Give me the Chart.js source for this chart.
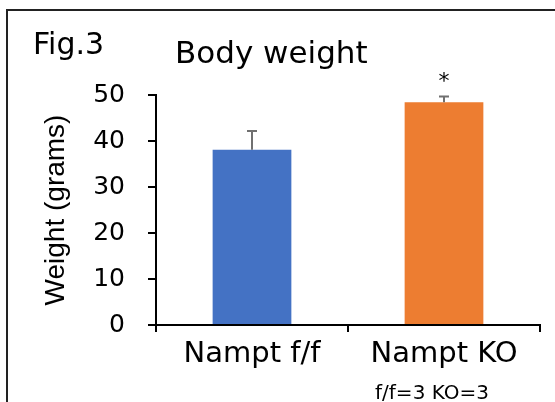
<!DOCTYPE html>
<html>
<head>
<meta charset="utf-8">
<script src="https://cdn.jsdelivr.net/npm/chart.js@4/dist/chart.umd.min.js"></script>
<style>
    html, body { margin: 0; padding: 0; background: #fff; }
    #wrap { width: 555px; height: 402px; }
</style>
</head>
<body>
<div id="wrap"><canvas id="weight_chart"></canvas></div>
<script>
var groups = ['Nampt f/f', 'Nampt KO'];
var meanWeight = [38.1, 48.4];
var sdWeight = [4.1, 1.3];
var significance = ['', '*'];
var barColors = ['#4472C4', '#ED7D31'];
var yMin = 0, yMax = 50, yStep = 10;

var figLabel = 'Fig.3';
var chartTitle = 'Body weight';
var yTitle = 'Weight (grams)';
var sampleNote = 'f/f=3 KO=3';

// error bars (upper only), asterisk, captions and the frame
var extrasPlugin = {
    id: 'extras',
    afterDatasetsDraw(chart) {
        var ctx = chart.ctx;
        var yScale = chart.scales.y;
        var meta = chart.getDatasetMeta(0);

        ctx.save();
        ctx.strokeStyle = '#707070';
        ctx.lineWidth = 2;
        meta.data.forEach(function (bar, i) {
            var top = yScale.getPixelForValue(meanWeight[i] + sdWeight[i]);
            ctx.beginPath();
            ctx.moveTo(bar.x, bar.y);
            ctx.lineTo(bar.x, top);
            ctx.moveTo(bar.x - 5, top);
            ctx.lineTo(bar.x + 5, top);
            ctx.stroke();

            if (significance[i]) {
                ctx.fillStyle = '#000';
                ctx.font = '22px "DejaVu Sans"';
                ctx.textAlign = 'center';
                ctx.textBaseline = 'alphabetic';
                ctx.fillText(significance[i], bar.x, top - 8);
            }
        });
        ctx.restore();
    },
    afterDraw(chart) {
        var ctx = chart.ctx;
        ctx.save();
        ctx.fillStyle = '#000';
        ctx.textBaseline = 'alphabetic';
        ctx.textAlign = 'left';
        ctx.font = '30px "DejaVu Sans"';
        ctx.fillText(figLabel, 33, 54);
        ctx.font = '31px "DejaVu Sans"';
        ctx.fillText(chartTitle, 175, 63);
        ctx.textAlign = 'center';
        ctx.font = '20px "DejaVu Sans"';
        ctx.fillText(sampleNote, 432, 399);

        ctx.strokeStyle = '#222';
        ctx.lineWidth = 2;
        ctx.strokeRect(7, 10, 700, 600);
        ctx.restore();
    }
};

const weightChart = new Chart(document.getElementById('weight_chart'), {
    type: 'bar',
    data: {
        labels: groups,
        datasets: [{
            data: meanWeight,
            backgroundColor: barColors,
            borderWidth: 0,
            categoryPercentage: 1.0,
            barPercentage: 0.41
        }]
    },
    options: {
        responsive: true,
        maintainAspectRatio: false,
        animation: false,
        layout: {
            padding: { top: 95, right: 15, left: 0, bottom: 0 }
        },
        scales: {
            x: {
                afterFit: function (s) { s.height = 77; },
                border: { color: '#000', width: 2 },
                grid: {
                    offset: true,
                    drawOnChartArea: false,
                    color: '#000',
                    lineWidth: 2,
                    tickLength: 7
                },
                ticks: {
                    color: '#000',
                    padding: 5,
                    font: { family: 'DejaVu Sans', size: 29 }
                }
            },
            y: {
                min: yMin,
                max: yMax,
                afterFit: function (s) { s.width = 156; },
                border: { color: '#000', width: 2 },
                grid: {
                    drawOnChartArea: false,
                    color: '#000',
                    lineWidth: 2,
                    tickLength: 8
                },
                ticks: {
                    stepSize: yStep,
                    color: '#000',
                    padding: 23,
                    font: { family: 'DejaVu Sans', size: 25 }
                },
                title: {
                    display: true,
                    text: yTitle,
                    color: '#000',
                    padding: { top: 39, bottom: 0 },
                    font: { family: 'Liberation Sans', size: 28 }
                }
            }
        },
        plugins: {
            legend: { display: false },
            tooltip: { enabled: false }
        }
    },
    plugins: [extrasPlugin]
});
</script>
</body>
</html>
